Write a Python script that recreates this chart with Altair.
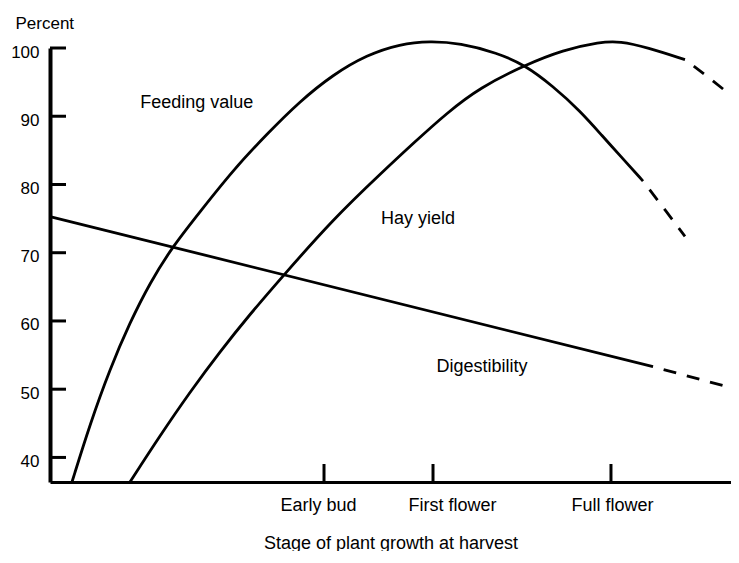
import altair as alt
import pandas as pd

FONT = "Liberation Sans"

# Stage positions on a unitless growth axis (0-100)
stage_names = ["Early bud", "First  flower", "Full flower"]
stage_x = [39.77, 55.59, 81.42]

y_tick_values = [40, 50, 60, 70, 80, 90, 100]

# Feeding value curve (solid part, then dashed extension)
feeding_x = [3.19, 5.81, 8.71, 11.61, 14.51, 17.85, 21.77, 26.56, 31.49, 36.28, 41.07,
             46.01, 50.80, 55.15, 59.51, 64.88, 68.94, 73.00, 76.92, 80.26, 82.73, 86.07]
feeding_y = [36.4, 44.9, 53.0, 59.8, 65.6, 71.0, 76.0, 82.1, 87.4, 92.2, 96.1,
             99.0, 100.6, 101.0, 100.7, 99.3, 97.5, 94.4, 90.8, 87.0, 84.25, 80.5]
feeding_dash_x = [86.07, 89.55, 92.16]
feeding_dash_y = [80.5, 75.9, 72.4]

# Hay yield curve
hay_x = [11.61, 15.97, 20.32, 24.67, 29.03, 33.82, 41.07, 48.33, 52.69, 57.62, 62.41,
         68.94, 74.46, 79.83, 82.73, 86.65, 92.16]
hay_y = [36.4, 43.2, 49.6, 55.5, 61.0, 66.6, 74.9, 81.9, 86.0, 90.5, 94.2,
         97.5, 99.7, 100.9, 101.0, 100.1, 98.3]
hay_dash_x = [92.16, 96.0, 99.85]
hay_dash_y = [98.3, 95.4, 92.2]

# Digestibility line
dig_x = [0.0, 87.52]
dig_y = [75.3, 53.3]
dig_dash_x = [87.52, 100.0]
dig_dash_y = [53.3, 49.9]

label_text = ["Feeding value", "Hay yield", "Digestibility"]
label_x = [21.3, 53.4, 62.7]
label_y = [91.9, 74.9, 53.2]

rows = []
def add(series, part, xs, ys):
    for a, b in zip(xs, ys):
        rows.append({"series": series, "part": part, "x": a, "y": b})

add("Feeding value", "solid", feeding_x, feeding_y)
add("Feeding value", "dashed", feeding_dash_x, feeding_dash_y)
add("Hay yield", "solid", hay_x, hay_y)
add("Hay yield", "dashed", hay_dash_x, hay_dash_y)
add("Digestibility", "solid", dig_x, dig_y)
add("Digestibility", "dashed", dig_dash_x, dig_dash_y)
df = pd.DataFrame(rows)

labels_df = pd.DataFrame({"x": label_x, "y": label_y, "text": label_text})
ytick_df = pd.DataFrame({"y": y_tick_values})
xtick_df = pd.DataFrame({"x": stage_x})

W, H = 681, 434
x_scale = alt.Scale(domain=[0, 98.84], nice=False, zero=False)
y_scale = alt.Scale(domain=[36.4, 100], nice=False, zero=False)

label_expr = ("datum.value < 45 ? '%s' : datum.value < 70 ? '%s' : '%s'"
              % tuple(stage_names))
label_offset = {
    "condition": [
        {"test": "datum.value < 45", "value": -6},
        {"test": "datum.value < 70", "value": 19},
    ],
    "value": 1,
}

x_axis = alt.Axis(values=stage_x, labelExpr=label_expr, labelOffset=label_offset,
                  title="Stage of plant growth at harvest",
                  titleY=66, titleBaseline="alphabetic",
                  titleFont=FONT, titleFontSize=18, titleFontWeight="normal", titleColor="black",
                  labelFont=FONT, labelFontSize=18, labelColor="black", labelPadding=14,
                  labelFlush=False, labelOverlap=False,
                  ticks=False, tickSize=0, grid=False,
                  domainColor="black", domainWidth=3)
y_axis = alt.Axis(values=y_tick_values, title="Percent", titleAngle=0,
                  titleAlign="left", titleBaseline="alphabetic", titleX=-35, titleY=-20,
                  titleFont=FONT, titleFontSize=17, titleFontWeight="normal", titleColor="black",
                  labelFont=FONT, labelFontSize=17, labelColor="black", labelPadding=11,
                  labelOffset=4, ticks=False, tickSize=0, grid=False,
                  domainColor="black", domainWidth=4)

solid = alt.Chart(df).transform_filter(alt.datum.part == "solid").mark_line(
    color="black", strokeWidth=2.8, interpolate="basis"
).encode(
    x=alt.X("x:Q", scale=x_scale, axis=x_axis),
    y=alt.Y("y:Q", scale=y_scale, axis=y_axis),
    detail="series:N",
)

dashed = alt.Chart(df).transform_filter(alt.datum.part == "dashed").mark_line(
    color="black", strokeWidth=2.8, strokeDash=[13, 11], strokeDashOffset=13,
    interpolate="basis"
).encode(
    x=alt.X("x:Q", scale=x_scale),
    y=alt.Y("y:Q", scale=y_scale),
    detail="series:N",
)

texts = alt.Chart(labels_df).mark_text(
    font=FONT, fontSize=18, color="black", align="center", baseline="middle"
).encode(
    x=alt.X("x:Q", scale=x_scale),
    y=alt.Y("y:Q", scale=y_scale),
    text="text:N",
)

yticks = alt.Chart(ytick_df).mark_rule(color="black", strokeWidth=3).encode(
    y=alt.Y("y:Q", scale=y_scale),
    x=alt.value(0),
    x2=alt.value(16),
)

xticks = alt.Chart(xtick_df).mark_rule(color="black", strokeWidth=3).encode(
    x=alt.X("x:Q", scale=x_scale),
    y=alt.value(H),
    y2=alt.value(H - 18),
)

chart = alt.layer(solid, dashed, texts, yticks, xticks).properties(
    width=W, height=H,
    autosize=alt.AutoSizeParams(type="none"),
    padding={"left": 42, "top": 40, "right": 0, "bottom": 69},
    background="white",
).configure_view(strokeWidth=0)

chart.save("out.html", embed_options={"renderer": "svg", "actions": False})
